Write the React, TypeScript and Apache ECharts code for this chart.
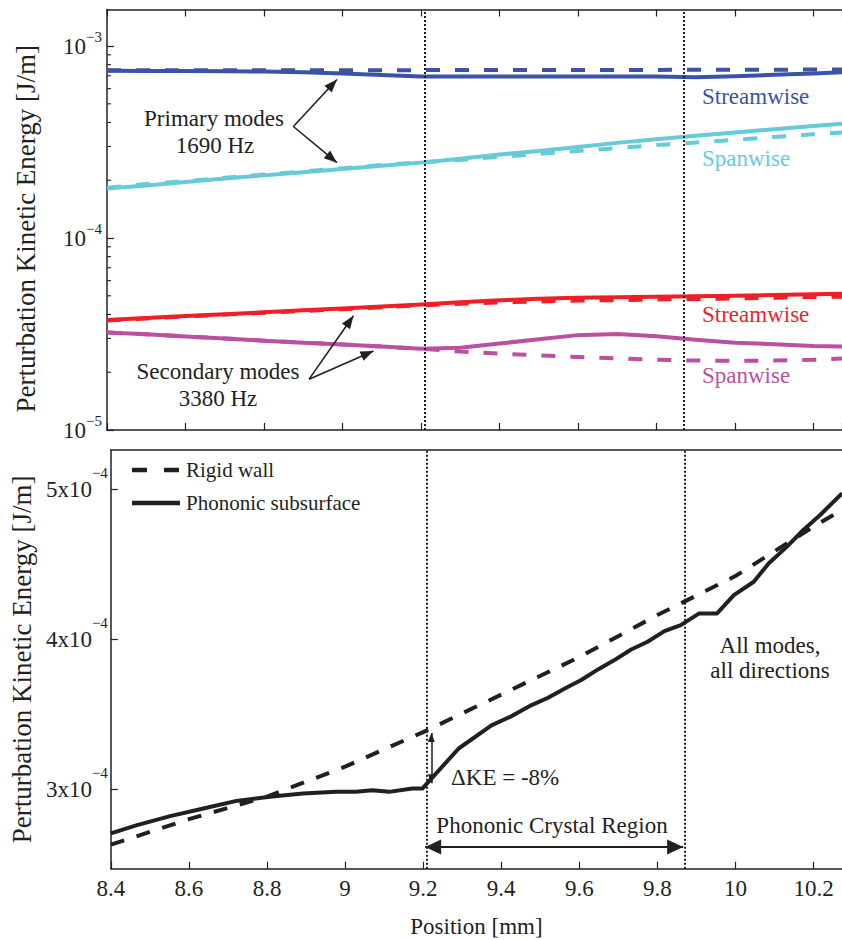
import React, { useEffect, useRef } from "react";
import * as echarts from "echarts";

// ---------- data ----------
const posTop = [8.4, 8.5, 8.6, 8.7, 8.8, 8.9, 9.0, 9.1, 9.2, 9.3, 9.4, 9.5, 9.6, 9.7, 9.8, 9.9, 10.0, 10.1, 10.2, 10.273];

const primaryStreamRigid = [7.47e-4, 7.47e-4, 7.48e-4, 7.48e-4, 7.48e-4, 7.49e-4, 7.49e-4, 7.49e-4, 7.49e-4, 7.5e-4, 7.5e-4, 7.5e-4, 7.5e-4, 7.51e-4, 7.51e-4, 7.52e-4, 7.52e-4, 7.53e-4, 7.54e-4, 7.55e-4];
const primaryStreamPhon = [7.43e-4, 7.42e-4, 7.41e-4, 7.39e-4, 7.37e-4, 7.3e-4, 7.2e-4, 7.06e-4, 6.94e-4, 6.93e-4, 6.93e-4, 6.93e-4, 6.93e-4, 6.93e-4, 6.93e-4, 6.88e-4, 6.97e-4, 7.08e-4, 7.2e-4, 7.3e-4];
const primarySpanRigid = [1.83e-4, 1.91e-4, 1.98e-4, 2.06e-4, 2.14e-4, 2.22e-4, 2.31e-4, 2.4e-4, 2.48e-4, 2.55e-4, 2.65e-4, 2.74e-4, 2.84e-4, 2.94e-4, 3.05e-4, 3.14e-4, 3.25e-4, 3.36e-4, 3.47e-4, 3.55e-4];
const primarySpanPhon = [1.81e-4, 1.88e-4, 1.96e-4, 2.04e-4, 2.12e-4, 2.2e-4, 2.29e-4, 2.38e-4, 2.47e-4, 2.59e-4, 2.72e-4, 2.84e-4, 2.98e-4, 3.13e-4, 3.27e-4, 3.41e-4, 3.55e-4, 3.69e-4, 3.83e-4, 3.94e-4];
const secondaryStreamRigid = [3.72e-5, 3.81e-5, 3.9e-5, 3.99e-5, 4.08e-5, 4.17e-5, 4.26e-5, 4.36e-5, 4.46e-5, 4.55e-5, 4.62e-5, 4.67e-5, 4.72e-5, 4.75e-5, 4.78e-5, 4.81e-5, 4.85e-5, 4.89e-5, 4.93e-5, 4.95e-5];
const secondaryStreamPhon = [3.74e-5, 3.83e-5, 3.92e-5, 4.01e-5, 4.1e-5, 4.2e-5, 4.3e-5, 4.4e-5, 4.5e-5, 4.63e-5, 4.74e-5, 4.82e-5, 4.88e-5, 4.92e-5, 4.95e-5, 4.97e-5, 5.01e-5, 5.05e-5, 5.09e-5, 5.12e-5];
const secondarySpanRigid = [3.22e-5, 3.15e-5, 3.07e-5, 3.0e-5, 2.92e-5, 2.85e-5, 2.79e-5, 2.72e-5, 2.65e-5, 2.56e-5, 2.5e-5, 2.45e-5, 2.4e-5, 2.36e-5, 2.32e-5, 2.3e-5, 2.29e-5, 2.3e-5, 2.32e-5, 2.36e-5];
const secondarySpanPhon = [3.22e-5, 3.15e-5, 3.07e-5, 3.0e-5, 2.92e-5, 2.85e-5, 2.79e-5, 2.72e-5, 2.65e-5, 2.68e-5, 2.82e-5, 2.97e-5, 3.12e-5, 3.16e-5, 3.08e-5, 2.95e-5, 2.85e-5, 2.8e-5, 2.74e-5, 2.72e-5];

const posRigid = [8.4, 8.6, 8.8, 9.0, 9.2, 9.4, 9.6, 9.8, 10.0, 10.2, 10.273];
const keRigid = [2.63e-4, 2.8e-4, 2.95e-4, 3.15e-4, 3.38e-4, 3.63e-4, 3.88e-4, 4.16e-4, 4.42e-4, 4.75e-4, 4.86e-4];
const posPhon = [8.4, 8.467, 8.552, 8.637, 8.722, 8.807, 8.892, 8.977, 9.028, 9.07, 9.113, 9.172, 9.198, 9.291, 9.376, 9.427, 9.478, 9.52, 9.563, 9.605, 9.648, 9.69, 9.733, 9.775, 9.818, 9.86, 9.907, 9.953, 9.996, 10.047, 10.085, 10.132, 10.174, 10.217, 10.273];
const kePhon = [2.705e-4, 2.76e-4, 2.82e-4, 2.871e-4, 2.922e-4, 2.949e-4, 2.971e-4, 2.982e-4, 2.982e-4, 2.993e-4, 2.982e-4, 3.004e-4, 3.004e-4, 3.271e-4, 3.427e-4, 3.487e-4, 3.56e-4, 3.609e-4, 3.671e-4, 3.727e-4, 3.798e-4, 3.86e-4, 3.931e-4, 3.982e-4, 4.053e-4, 4.093e-4, 4.171e-4, 4.171e-4, 4.293e-4, 4.382e-4, 4.504e-4, 4.616e-4, 4.727e-4, 4.827e-4, 4.971e-4];

const crystalEdges = [9.205, 9.866];
const logMinorTicks = [2e-5, 3e-5, 4e-5, 5e-5, 6e-5, 7e-5, 8e-5, 9e-5, 2e-4, 3e-4, 4e-4, 5e-4, 6e-4, 7e-4, 8e-4, 9e-4];
const linearTicks = [3e-4, 4e-4, 5e-4];

const FONT = "Liberation Serif";
const INK = "#231f20";
const BLUE = "#3a53a4";
const CYAN = "#66cbd9";
const RED = "#ee1f26";
const MAGENTA = "#bb50a1";

const mkLine = (name: string, xs: number[], ys: number[], color: string, dashed: boolean, width: number, gi: number, extra: any = {}) => ({
  type: "line",
  name,
  xAxisIndex: gi === 0 ? 0 : 2,
  yAxisIndex: gi,
  data: xs.map((x, i) => [x, ys[i]]),
  symbol: "none",
  showSymbol: false,
  silent: true,
  z: dashed ? 4 : 3,
  lineStyle: { color, width, type: dashed ? [14, 15] : "solid", cap: "butt", join: "round" },
  ...extra,
});

const dottedMark = {
  silent: true,
  symbol: ["none", "none"],
  label: { show: false },
  lineStyle: { color: INK, width: 2, type: [2, 2] },
  data: crystalEdges.map((v) => ({ xAxis: v })),
};

const arrowSeries = (gi: number, symbol: string[], size: number[], width: number, data: any[]) => ({
  type: "line",
  xAxisIndex: gi === 0 ? 0 : 2,
  yAxisIndex: gi,
  data: [],
  silent: true,
  z: 8,
  markLine: {
    silent: true,
    symbol,
    symbolSize: size,
    symbolOffset: [[0, "50%"], [0, "50%"]],
    label: { show: false },
    lineStyle: { color: INK, width, type: "solid" },
    data,
  },
});

export default function App() {
  const ref = useRef<HTMLDivElement>(null);
  useEffect(() => {
    if (!ref.current) return;
    const chart = echarts.init(ref.current, null, { renderer: "svg" });
    const axisLine = { show: true, lineStyle: { color: INK, width: 1.5 } };
    const tickIn = { show: true, inside: true, length: 7, lineStyle: { color: INK, width: 1.2 } };
    const xBase = { type: "value", min: 8.4, max: 10.273, interval: 0.2, splitLine: { show: false } };

    const option: any = {
      animation: false,
      backgroundColor: "#ffffff",
      grid: [
        { left: 107, top: 9.5, right: 0, height: 420.5 },
        { left: 107, top: 450, right: 0, height: 418.7 },
      ],
      xAxis: [
        { ...xBase, gridIndex: 0, position: "bottom", axisLine, axisTick: tickIn, axisLabel: { show: false } },
        { ...xBase, gridIndex: 0, position: "top", axisLine, axisTick: tickIn, axisLabel: { show: false } },
        {
          ...xBase,
          gridIndex: 1,
          position: "bottom",
          axisLine,
          axisTick: tickIn,
          axisLabel: {
            show: true,
            margin: 8,
            showMaxLabel: false,
            color: INK,
            fontFamily: FONT,
            fontSize: 23,
            formatter: (v: number) => String(+v.toFixed(1)),
          },
          name: "Position [mm]",
          nameLocation: "middle",
          nameGap: 46,
          nameTextStyle: { color: INK, fontFamily: FONT, fontSize: 23 },
        },
        { ...xBase, gridIndex: 1, position: "top", axisLine, axisTick: { show: false }, axisLabel: { show: false } },
      ],
      yAxis: [
        {
          type: "log",
          logBase: 10,
          gridIndex: 0,
          min: 1e-5,
          max: 1.55e-3,
          axisLine,
          axisTick: tickIn,
          splitLine: { show: false },
          axisLabel: {
            show: true,
            margin: 5,
            showMaxLabel: false,
            formatter: (v: number) => `{b|10}{s|−${-Math.round(Math.log10(v))}}`,
            rich: {
              b: { fontFamily: FONT, fontSize: 23, color: INK, lineHeight: 34, verticalAlign: "middle" },
              s: { fontFamily: FONT, fontSize: 15, color: INK, lineHeight: 15, verticalAlign: "top" },
            },
          },
          name: "Perturbation Kinetic Energy [J/m]",
          nameLocation: "middle",
          nameGap: 68,
          nameTextStyle: { color: INK, fontFamily: FONT, fontSize: 27, padding: [0, 18, 0, 0] },
        },
        {
          type: "value",
          gridIndex: 1,
          min: 2.47e-4,
          max: 5.26e-4,
          axisLine,
          axisTick: { ...tickIn, customValues: linearTicks },
          splitLine: { show: false },
          axisLabel: {
            show: true,
            margin: 3,
            customValues: linearTicks,
            formatter: (v: number) => `{b|${Math.round(v * 1e4)}x10}{s|−4}`,
            rich: {
              b: { fontFamily: FONT, fontSize: 23, color: INK, lineHeight: 48, verticalAlign: "middle", width: 40 },
              s: { fontFamily: FONT, fontSize: 15, color: INK, lineHeight: 15, verticalAlign: "top" },
            },
          },
          name: "Perturbation Kinetic Energy [J/m]",
          nameLocation: "middle",
          nameGap: 68,
          nameTextStyle: { color: INK, fontFamily: FONT, fontSize: 27 },
        },
      ],
      series: [
        mkLine("Primary streamwise, phononic", posTop, primaryStreamPhon, BLUE, false, 4, 0, { markLine: dottedMark }),
        mkLine("Primary streamwise, rigid", posTop, primaryStreamRigid, BLUE, true, 4, 0),
        mkLine("Primary spanwise, phononic", posTop, primarySpanPhon, CYAN, false, 4, 0),
        mkLine("Primary spanwise, rigid", posTop, primarySpanRigid, CYAN, true, 4, 0),
        mkLine("Secondary streamwise, phononic", posTop, secondaryStreamPhon, RED, false, 4, 0),
        mkLine("Secondary streamwise, rigid", posTop, secondaryStreamRigid, RED, true, 4, 0),
        mkLine("Secondary spanwise, phononic", posTop, secondarySpanPhon, MAGENTA, false, 4, 0),
        mkLine("Secondary spanwise, rigid", posTop, secondarySpanRigid, MAGENTA, true, 4, 0),
        {
          type: "custom",
          xAxisIndex: 0,
          yAxisIndex: 0,
          silent: true,
          clip: false,
          z: 6,
          data: logMinorTicks.map((v) => [8.4, v]),
          encode: { x: 0, y: 1 },
          renderItem: (_p: any, api: any) => {
            const p = api.coord([api.value(0), api.value(1)]);
            return { type: "line", shape: { x1: p[0], y1: p[1], x2: p[0] + 4, y2: p[1] }, style: { stroke: INK, lineWidth: 1.1 } };
          },
        },
        mkLine("Rigid wall", posRigid, keRigid, INK, true, 4, 1, { markLine: dottedMark, lineStyle: { color: INK, width: 4, type: [14, 13], cap: "butt" } }),
        mkLine("Phononic subsurface", posPhon, kePhon, INK, false, 4, 1),
        arrowSeries(0, ["none", "triangle"], [10, 13], 1.6, [
          [{ coord: [8.875, 3.81e-4] }, { coord: [8.986, 6.69e-4] }],
          [{ coord: [8.875, 3.81e-4] }, { coord: [8.986, 2.47e-4] }],
          [{ coord: [8.915, 1.84e-5] }, { coord: [9.028, 3.94e-5] }],
          [{ coord: [8.915, 1.84e-5] }, { coord: [9.079, 2.58e-5] }],
        ]),
        arrowSeries(1, ["triangle", "triangle"], [7, 9], 1.5, [
          [{ coord: [9.221, 3.375e-4] }, { coord: [9.221, 3.04e-4] }],
        ]),
        arrowSeries(1, ["triangle", "triangle"], [15, 16], 2, [
          [{ coord: [9.205, 2.615e-4] }, { coord: [9.866, 2.615e-4] }],
        ]),
      ],
      graphic: [
        ...[
          ["Primary modes", 214, 118],
          ["1690 Hz", 215, 145],
          ["Secondary modes", 218, 371],
          ["3380 Hz", 218, 398],
          ["Phononic Crystal Region", 552, 825],
          ["All modes,", 770, 645],
          ["all directions", 770, 670],
        ].map(([t, x, y]) => ({
          type: "text",
          x,
          y,
          silent: true,
          style: { text: t, fill: INK, fontFamily: FONT, fontSize: 23, align: "center", verticalAlign: "middle" },
        })),
        ...[
          ["Streamwise", 96, BLUE],
          ["Spanwise", 158, CYAN],
          ["Streamwise", 314, RED],
          ["Spanwise", 375, MAGENTA],
        ].map(([t, y, c]) => ({
          type: "text",
          x: 702,
          y,
          silent: true,
          style: { text: t, fill: c, fontFamily: FONT, fontSize: 23, align: "left", verticalAlign: "middle" },
        })),
        {
          type: "text",
          x: 451,
          y: 777,
          silent: true,
          style: { text: "ΔKE = -8%", fill: INK, fontFamily: FONT, fontSize: 23, align: "left", verticalAlign: "middle" },
        },
        { type: "line", silent: true, shape: { x1: 132, y1: 470, x2: 179, y2: 470 }, style: { stroke: INK, lineWidth: 4.5, lineDash: [15, 17] } },
        { type: "line", silent: true, shape: { x1: 132, y1: 503, x2: 180, y2: 503 }, style: { stroke: INK, lineWidth: 4.5 } },
        {
          type: "text",
          x: 186,
          y: 470,
          silent: true,
          style: { text: "Rigid wall", fill: INK, fontFamily: FONT, fontSize: 21, align: "left", verticalAlign: "middle" },
        },
        {
          type: "text",
          x: 186,
          y: 503,
          silent: true,
          style: { text: "Phononic subsurface", fill: INK, fontFamily: FONT, fontSize: 21, align: "left", verticalAlign: "middle" },
        },
      ],
    };
    chart.setOption(option);
    return () => chart.dispose();
  }, []);
  return <div ref={ref} style={{ position: "absolute", left: 0, top: 0, width: 842, height: 940, background: "#fff" }} />;
}
